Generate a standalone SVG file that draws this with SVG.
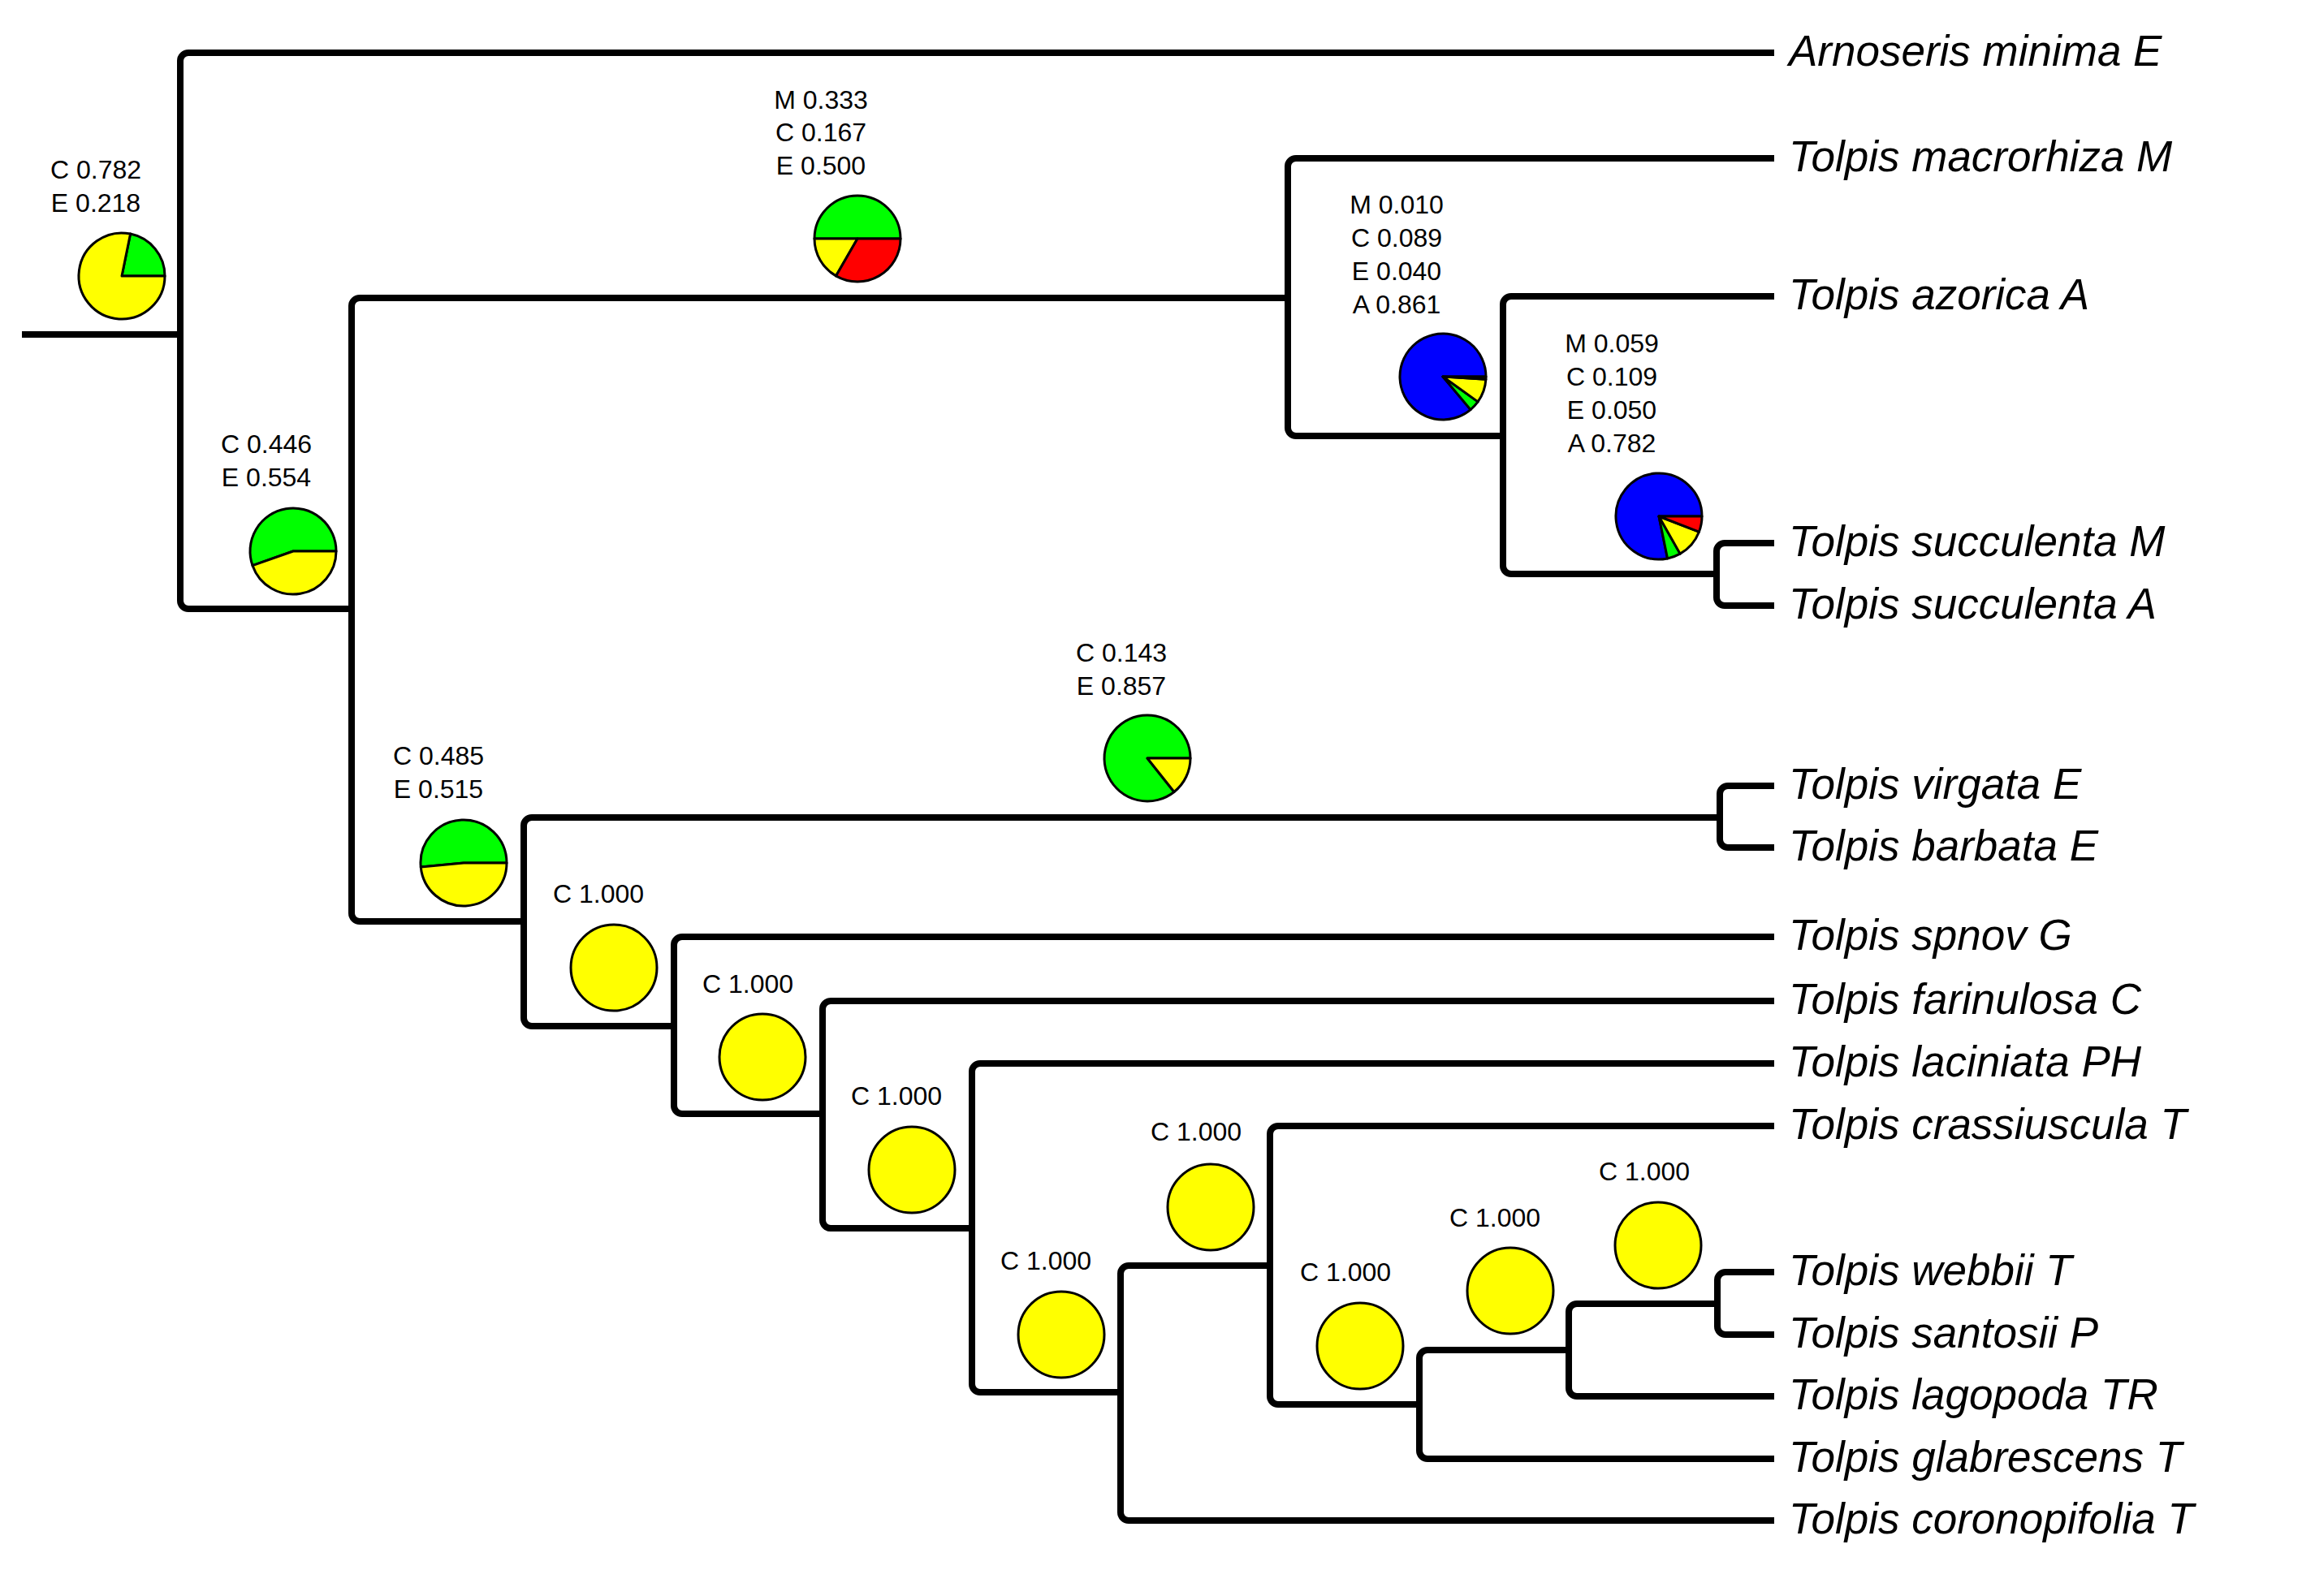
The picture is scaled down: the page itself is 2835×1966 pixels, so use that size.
<svg xmlns="http://www.w3.org/2000/svg" width="2835" height="1966" viewBox="0 0 2835 1966">
<style>
.br{fill:none;stroke:#000;stroke-width:8;stroke-linecap:butt;stroke-linejoin:round}
.lf{font-family:"Liberation Sans",Arial,sans-serif;font-style:italic;font-size:53px;fill:#000}
.lb{font-family:"Liberation Sans",Arial,sans-serif;font-size:32px;fill:#000;text-anchor:middle}
.pie path,.pie circle{stroke:#000;stroke-width:3;stroke-linejoin:round}
.G{fill:#00FF00}.Y{fill:#FFFF00}.R{fill:#FF0000}.B{fill:#0000FF}
</style>
<rect width="2835" height="1966" fill="#fff"/>
<g id="connectors">
<path class="br" d="M27 412 H222"/>
<path class="br" d="M2185 65 H232 A10 10 0 0 0 222 75 V740 A10 10 0 0 0 232 750 H433"/>
<path class="br" d="M1586 367 H443 A10 10 0 0 0 433 377 V1125 A10 10 0 0 0 443 1135 H645"/>
<path class="br" d="M2185 195 H1596 A10 10 0 0 0 1586 205 V527 A10 10 0 0 0 1596 537 H1851"/>
<path class="br" d="M2185 365 H1861 A10 10 0 0 0 1851 375 V697 A10 10 0 0 0 1861 707 H2114"/>
<path class="br" d="M2185 669 H2124 A10 10 0 0 0 2114 679 V736 A10 10 0 0 0 2124 746 H2185"/>
<path class="br" d="M2118 1007 H655 A10 10 0 0 0 645 1017 V1254 A10 10 0 0 0 655 1264 H830"/>
<path class="br" d="M2185 968 H2128 A10 10 0 0 0 2118 978 V1034 A10 10 0 0 0 2128 1044 H2185"/>
<path class="br" d="M2185 1154 H840 A10 10 0 0 0 830 1164 V1362 A10 10 0 0 0 840 1372 H1013"/>
<path class="br" d="M2185 1233 H1023 A10 10 0 0 0 1013 1243 V1503 A10 10 0 0 0 1023 1513 H1197"/>
<path class="br" d="M2185 1310 H1207 A10 10 0 0 0 1197 1320 V1705 A10 10 0 0 0 1207 1715 H1380"/>
<path class="br" d="M1564 1559 H1390 A10 10 0 0 0 1380 1569 V1863 A10 10 0 0 0 1390 1873 H2185"/>
<path class="br" d="M2185 1387 H1574 A10 10 0 0 0 1564 1397 V1720 A10 10 0 0 0 1574 1730 H1748"/>
<path class="br" d="M1932 1663 H1758 A10 10 0 0 0 1748 1673 V1787 A10 10 0 0 0 1758 1797 H2185"/>
<path class="br" d="M2115 1606 H1942 A10 10 0 0 0 1932 1616 V1710 A10 10 0 0 0 1942 1720 H2185"/>
<path class="br" d="M2185 1567 H2125 A10 10 0 0 0 2115 1577 V1634 A10 10 0 0 0 2125 1644 H2185"/>
</g>
<g id="leaves">
<g id="leaf-arnoseris"><text class="lf" x="2203" y="81">Arnoseris minima E</text></g>
<g id="leaf-macrorhiza"><text class="lf" x="2203" y="211">Tolpis macrorhiza M</text></g>
<g id="leaf-azorica"><text class="lf" x="2203" y="381">Tolpis azorica A</text></g>
<g id="leaf-succulenta-m"><text class="lf" x="2203" y="685">Tolpis succulenta M</text></g>
<g id="leaf-succulenta-a"><text class="lf" x="2203" y="762">Tolpis succulenta A</text></g>
<g id="leaf-virgata"><text class="lf" x="2203" y="984">Tolpis virgata E</text></g>
<g id="leaf-barbata"><text class="lf" x="2203" y="1060">Tolpis barbata E</text></g>
<g id="leaf-spnov"><text class="lf" x="2203" y="1170">Tolpis spnov G</text></g>
<g id="leaf-farinulosa"><text class="lf" x="2203" y="1249">Tolpis farinulosa C</text></g>
<g id="leaf-laciniata"><text class="lf" x="2203" y="1326">Tolpis laciniata PH</text></g>
<g id="leaf-crassiuscula"><text class="lf" x="2203" y="1403">Tolpis crassiuscula T</text></g>
<g id="leaf-webbii"><text class="lf" x="2203" y="1583">Tolpis webbii T</text></g>
<g id="leaf-santosii"><text class="lf" x="2203" y="1660">Tolpis santosii P</text></g>
<g id="leaf-lagopoda"><text class="lf" x="2203" y="1736">Tolpis lagopoda TR</text></g>
<g id="leaf-glabrescens"><text class="lf" x="2203" y="1813">Tolpis glabrescens T</text></g>
<g id="leaf-coronopifolia"><text class="lf" x="2203" y="1889">Tolpis coronopifolia T</text></g>
</g>
<g id="node-root" class="pie">
<text class="lb" x="118" y="220">C 0.782</text><text class="lb" x="118" y="261">E 0.218</text>
<path class="G" d="M150 340 L203 340 A53 53 0 0 0 160.58 288.07 Z"/>
<path class="Y" d="M150 340 L160.58 288.07 A53 53 0 1 0 203 340 Z"/>
</g>
<g id="node-tolpis" class="pie">
<text class="lb" x="328" y="558">C 0.446</text><text class="lb" x="328" y="599">E 0.554</text>
<path class="G" d="M361 679 L414 679 A53 53 0 1 0 311.02 696.64 Z"/>
<path class="Y" d="M361 679 L311.02 696.64 A53 53 0 0 0 414 679 Z"/>
</g>
<g id="node-islands" class="pie">
<text class="lb" x="1011" y="134">M 0.333</text><text class="lb" x="1011" y="174">C 0.167</text><text class="lb" x="1011" y="215">E 0.500</text>
<path class="G" d="M1056 294 L1109 294 A53 53 0 0 0 1003 294 Z"/>
<path class="Y" d="M1056 294 L1003 294 A53 53 0 0 0 1029.5 339.9 Z"/>
<path class="R" d="M1056 294 L1029.5 339.9 A53 53 0 0 0 1109 294 Z"/>
</g>
<g id="node-azores" class="pie">
<text class="lb" x="1720" y="263">M 0.010</text><text class="lb" x="1720" y="304">C 0.089</text><text class="lb" x="1720" y="345">E 0.040</text><text class="lb" x="1720" y="386">A 0.861</text>
<path class="B" d="M1777 464 L1830 464 A53 53 0 1 0 1811.07 504.6 Z"/>
<path class="G" d="M1777 464 L1811.07 504.6 A53 53 0 0 0 1820.08 494.88 Z"/>
<path class="Y" d="M1777 464 L1820.08 494.88 A53 53 0 0 0 1829.9 467.33 Z"/>
<path class="R" d="M1777 464 L1829.9 467.33 A53 53 0 0 0 1830 464 Z"/>
</g>
<g id="node-succulenta" class="pie">
<text class="lb" x="1985" y="434">M 0.059</text><text class="lb" x="1985" y="475">C 0.109</text><text class="lb" x="1985" y="516">E 0.050</text><text class="lb" x="1985" y="557">A 0.782</text>
<path class="B" d="M2043 636 L2096 636 A53 53 0 1 0 2053.58 687.93 Z"/>
<path class="G" d="M2043 636 L2053.58 687.93 A53 53 0 0 0 2069.11 682.12 Z"/>
<path class="Y" d="M2043 636 L2069.11 682.12 A53 53 0 0 0 2092.4 655.2 Z"/>
<path class="R" d="M2043 636 L2092.4 655.2 A53 53 0 0 0 2096 636 Z"/>
</g>
<g id="node-continental" class="pie">
<text class="lb" x="540" y="942">C 0.485</text><text class="lb" x="540" y="983">E 0.515</text>
<path class="G" d="M571 1063 L624 1063 A53 53 0 1 0 518.24 1067.99 Z"/>
<path class="Y" d="M571 1063 L518.24 1067.99 A53 53 0 0 0 624 1063 Z"/>
</g>
<g id="node-virgata-barbata" class="pie">
<text class="lb" x="1381" y="815">C 0.143</text><text class="lb" x="1381" y="856">E 0.857</text>
<path class="G" d="M1413 934 L1466 934 A53 53 0 1 0 1446.01 975.46 Z"/>
<path class="Y" d="M1413 934 L1446.01 975.46 A53 53 0 0 0 1466 934 Z"/>
</g>
<g id="node-c1" class="pie"><text class="lb" x="737" y="1112">C 1.000</text><circle class="Y" cx="756" cy="1192" r="53"/></g>
<g id="node-c2" class="pie"><text class="lb" x="921" y="1223">C 1.000</text><circle class="Y" cx="939" cy="1302" r="53"/></g>
<g id="node-c3" class="pie"><text class="lb" x="1104" y="1361">C 1.000</text><circle class="Y" cx="1123" cy="1441" r="53"/></g>
<g id="node-c4" class="pie"><text class="lb" x="1288" y="1564">C 1.000</text><circle class="Y" cx="1307" cy="1644" r="53"/></g>
<g id="node-c5" class="pie"><text class="lb" x="1473" y="1405">C 1.000</text><circle class="Y" cx="1491" cy="1487" r="53"/></g>
<g id="node-c6" class="pie"><text class="lb" x="1657" y="1578">C 1.000</text><circle class="Y" cx="1675" cy="1658" r="53"/></g>
<g id="node-c7" class="pie"><text class="lb" x="1841" y="1511">C 1.000</text><circle class="Y" cx="1860" cy="1590" r="53"/></g>
<g id="node-c8" class="pie"><text class="lb" x="2025" y="1454">C 1.000</text><circle class="Y" cx="2042" cy="1534" r="53"/></g>
</svg>
